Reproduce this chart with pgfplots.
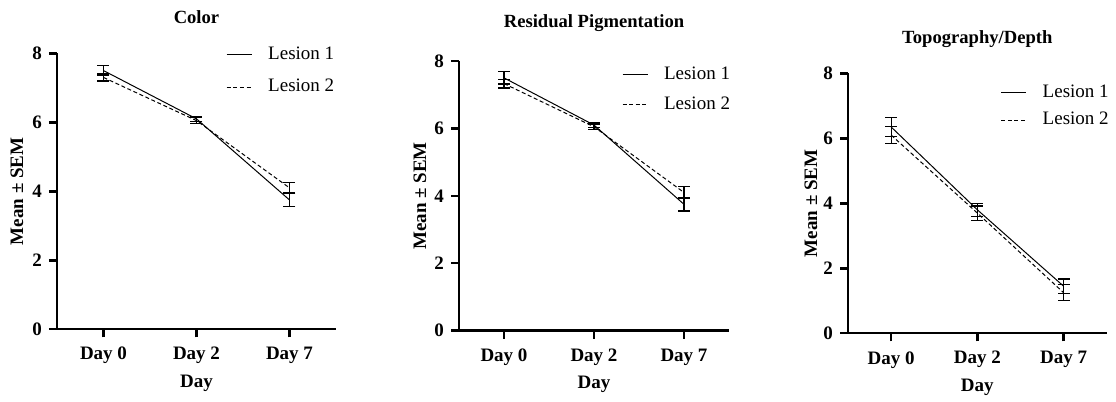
\documentclass[border=0pt]{standalone}
\usepackage{pgfplots}
\pgfplotsset{compat=1.18}
\usepackage{fontspec}
\setmainfont{Liberation Serif}
\pgfplotsset{
  panel/.style={
    scale only axis,
    anchor=south west,
    xmin=-0.5, xmax=2.5, ymin=0, ymax=8,
    axis x line*=bottom, axis y line*=left,
    axis line style={-, line width=1.2pt},
    tick style={line width=1.2pt, black},
    tick align=outside, tick pos=left,
    major tick length=4pt,
    xtick={0,1,2},
    xticklabels={\textbf{Day 0},\textbf{Day 2},\textbf{Day 7}},
    ytick={0,2,4,6,8},
    yticklabels={\textbf{0},\textbf{2},\textbf{4},\textbf{6},\textbf{8}},
    tick label style={font=\fontsize{9.5}{11}\selectfont},
    xticklabel style={yshift=-1.5pt},
    xlabel={\textbf{Day}},
    ylabel={\textbf{Mean ± SEM}},
    label style={font=\fontsize{9.5}{11}\selectfont},
    xlabel style={at={(axis description cs:0.5,0)}, anchor=center, yshift=-27pt},
    title style={font=\bfseries\fontsize{9.3}{11}\selectfont, at={(axis description cs:0.5,1)}, anchor=center},
    legend style={draw=none, fill=none, font=\fontsize{9.5}{11}\selectfont,
      anchor=north east, inner sep=0pt, outer sep=0pt,
      legend cell align=left},
    legend image code/.code={\draw[#1] (0pt,0pt) -- (12.5pt,0pt);},
    clip=false,
  },
  l1/.style={black, solid, line width=0.5pt, mark=none,
    error bars/.cd, y dir=both, y explicit,
    error bar style={line width=0.6pt, black, solid},
    error mark options={rotate=90, mark size=3pt, line width=0.6pt, black, solid}},
  l2/.style={black, dash pattern=on 2pt off 1.3pt, line width=0.5pt, mark=none,
    error bars/.cd, y dir=both, y explicit,
    error bar style={line width=0.6pt, black, solid},
    error mark options={rotate=90, mark size=3pt, line width=0.6pt, black, solid}},
}
\begin{document}
\begin{tikzpicture}
\useasboundingbox (0,0) rectangle (558pt,201pt);
% Panel 1
\begin{axis}[panel, at={(28.5pt,36.35pt)}, width=139.5pt, height=138pt,
  title={Color}, title style={yshift=12pt},
  ylabel style={at={(axis description cs:0,0.5)}, anchor=center, yshift=20pt},
  legend style={at={(axis description cs:0.99,1.06)}, xshift=2.5pt, yshift=-3pt, row sep=4.5pt},
  ]
\addplot[l1] coordinates {(0,7.5) +- (0,0.15) (1,6.1) +- (0,0.08) (2,3.75) +- (0,0.2)};
\addlegendentry{\hspace{6pt}Lesion 1}
\addplot[l2] coordinates {(0,7.3) +- (0,0.1) (1,6.05) +- (0,0.08) (2,4.1) +- (0,0.15)};
\addlegendentry{\hspace{6pt}Lesion 2}
\end{axis}
% Panel 2
\begin{axis}[panel, at={(229.5pt,35.65pt)}, width=135pt, height=134.85pt,
  title={Residual Pigmentation}, title style={yshift=13pt},
  ylabel style={at={(axis description cs:0,0.5)}, anchor=center, yshift=19.5pt},
  legend style={at={(axis description cs:1.0,1.0)}, xshift=2.5pt, yshift=-1pt, row sep=3pt},
  ]
\addplot[l1] coordinates {(0,7.5) +- (0,0.18) (1,6.1) +- (0,0.08) (2,3.75) +- (0,0.2)};
\addlegendentry{\hspace{6pt}Lesion 1}
\addplot[l2] coordinates {(0,7.33) +- (0,0.13) (1,6.05) +- (0,0.08) (2,4.1) +- (0,0.17)};
\addlegendentry{\hspace{6pt}Lesion 2}
\end{axis}
% Panel 3
\begin{axis}[panel, at={(424pt,34.35pt)}, width=129.35pt, height=130pt,
  title={Topography/Depth}, title style={yshift=11pt},
  ylabel style={at={(axis description cs:0,0.5)}, anchor=center, yshift=18.5pt},
  legend style={at={(axis description cs:1.0,0.97)}, xshift=3pt, row sep=1.8pt},
  ]
\addplot[l1] coordinates {(0,6.35) +- (0,0.29) (1,3.8) +- (0,0.2) (2,1.45) +- (0,0.22)};
\addlegendentry{\hspace{6pt}Lesion 1}
\addplot[l2] coordinates {(0,6.1) +- (0,0.27) (1,3.7) +- (0,0.22) (2,1.25) +- (0,0.25)};
\addlegendentry{\hspace{6pt}Lesion 2}
\end{axis}
\end{tikzpicture}
\end{document}
